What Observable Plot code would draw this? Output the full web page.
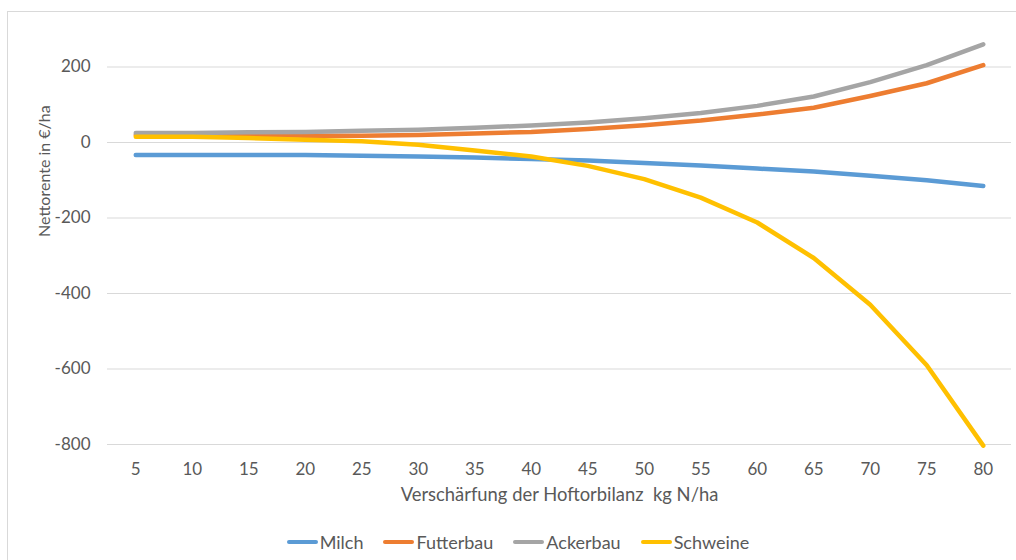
<!DOCTYPE html>
<html>
<head>
<meta charset="utf-8">
<script src="https://cdn.jsdelivr.net/npm/d3@7"></script>
<script src="https://cdn.jsdelivr.net/npm/@observablehq/plot@0.6"></script>
<style>
  html, body { margin: 0; padding: 0; background: #fff; width: 1016px; height: 560px; overflow: hidden; }
  #frame { position: absolute; left: 7px; top: 11px; width: 1020px; height: 600px; border-left: 1px solid #d9d9d9; border-top: 1px solid #d9d9d9; }
  #chart { position: absolute; left: 0; top: 0; }
  #legend { position: absolute; left: 0; top: 530px; width: 1016px; height: 24px; display: flex; justify-content: center; align-items: center; font-family: Lato, "Open Sans", sans-serif; font-size: 18px; color: #595959; padding-left: 20px; box-sizing: border-box; }
  .item { display: flex; align-items: center; margin: 0 10px; }
  .sw { width: 31px; height: 4px; border-radius: 2px; margin-right: 2px; }
</style>
</head>
<body>
<div id="frame"></div>
<div id="chart"></div>
<div id="legend"></div>
<script>
const categories = [5, 10, 15, 20, 25, 30, 35, 40, 45, 50, 55, 60, 65, 70, 75, 80];
const seriesNames = ["Milch", "Futterbau", "Ackerbau", "Schweine"];
const seriesColors = ["#5B9BD5", "#ED7D31", "#A5A5A5", "#FFC000"];
const milch     = [-33, -33, -33, -33, -35, -37, -40, -44, -48, -54, -61, -69, -77, -88, -100, -115];
const futterbau = [20, 20, 19, 18, 18, 20, 24, 28, 36, 46, 58, 74, 92, 123, 157, 205];
const ackerbau  = [25, 25, 27, 28, 31, 34, 39, 45, 53, 64, 78, 97, 122, 160, 205, 260];
const schweine  = [15, 15, 12, 7, 3, -6, -21, -37, -62, -97, -146, -212, -306, -430, -590, -803];
const yTicks = [200, 0, -200, -400, -600, -800];
const xTitle = "Verschärfung der Hoftorbilanz\u00a0 kg N/ha";
const yTitle = "Nettorente in €/ha";

const seriesValues = [milch, futterbau, ackerbau, schweine];
const data = [];
seriesNames.forEach((name, i) => {
  categories.forEach((c, j) => data.push({ series: name, x: c, y: seriesValues[i][j] }));
});

const fontFamily = "Lato, 'Open Sans', sans-serif";

const chart = Plot.plot({
  width: 1016,
  height: 520,
  marginLeft: 107,
  marginRight: 5,
  marginTop: 28.75,
  marginBottom: 76,
  style: { fontFamily, fontSize: "17px", color: "#595959", background: "transparent" },
  x: { type: "point", domain: categories, padding: 0.5, round: false },
  y: { domain: [-800, 300] },
  color: { domain: seriesNames, range: seriesColors },
  marks: [
    Plot.gridY(yTicks, { stroke: "#d9d9d9", strokeOpacity: 1, strokeWidth: 1 }),
    Plot.axisY(yTicks, { tickSize: 0, tickPadding: 17, label: null, fontSize: 17, fill: "#595959", tickFormat: d => d < 0 ? "-" + Math.abs(d) : String(d) }),
    Plot.axisX(categories, { tickSize: 0, tickPadding: 18, label: null, fontSize: 17, fill: "#595959" }),
    Plot.lineY(data, { x: "x", y: "y", z: "series", stroke: "series", strokeWidth: 4.5, strokeLinejoin: "round", strokeLinecap: "round" }),
    Plot.text([yTitle], { frameAnchor: "left", dx: -63, rotate: -90, fontSize: 16, fill: "#595959" }),
    Plot.text([xTitle], { frameAnchor: "bottom", dy: 56, fontSize: 18.4, fill: "#595959" })
  ]
});
document.getElementById("chart").appendChild(chart);

const legend = document.getElementById("legend");
seriesNames.forEach((name, i) => {
  const item = document.createElement("div");
  item.className = "item";
  const sw = document.createElement("div");
  sw.className = "sw";
  sw.style.background = seriesColors[i];
  const label = document.createElement("span");
  label.textContent = name;
  item.appendChild(sw);
  item.appendChild(label);
  legend.appendChild(item);
});
</script>
</body>
</html>
